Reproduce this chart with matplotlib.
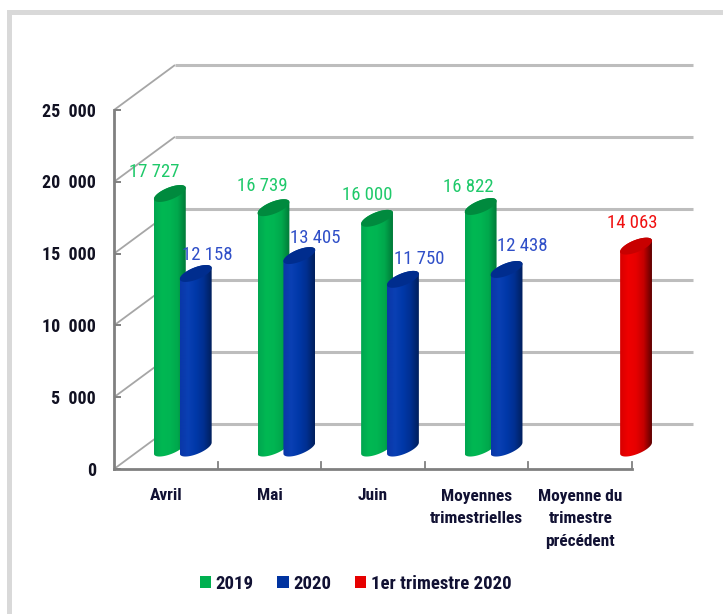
import numpy as np
import matplotlib
matplotlib.use("Agg")
import matplotlib.pyplot as plt
from matplotlib.colors import LinearSegmentedColormap
from matplotlib.patches import Patch, PathPatch, Rectangle
from matplotlib.path import Path

categories = ["Avril", "Mai", "Juin", "Moyennes\ntrimestrielles", "Moyenne du\ntrimestre\nprécédent"]
series_2019 = [17727, 16739, 16000, 16822, np.nan]
series_2020 = [12158, 13405, 11750, 12438, np.nan]
series_t1 = [np.nan, np.nan, np.nan, np.nan, 14063]
y_ticks = [0, 5000, 10000, 15000, 20000, 25000]
y_labels = ["0", "5  000", "10  000", "15  000", "20  000", "25  000"]
label_2019 = ["17 727", "16 739", "16 000", "16 822", ""]
label_2020 = ["12 158", "13 405", "11 750", "12 438", ""]
label_t1 = ["", "", "", "", "14 063"]

W, H = 723, 614
PX_X0, PX_X5, PX_Y0, PX_Y25 = 114, 632, 469, 110
sx = (PX_X5 - PX_X0) / 5
sy = (PX_Y0 - PX_Y25) / 25000
DX, DY = 61 / sx, 45 / sy           # depth of the floor in data units
FONT = ["Roboto Condensed", "Liberation Sans", "DejaVu Sans"]
A, B, TH = 17.0, 6.0, np.deg2rad(22)

fig = plt.figure(figsize=(W / 100, H / 100), dpi=100, facecolor="white")
ax = fig.add_axes([0, 0, 1, 1])
ax.set_xlim(-PX_X0 / sx, (W - PX_X0) / sx)
ax.set_ylim(-(H - PX_Y0) / sy, PX_Y0 / sy)
ax.axis("off")

# picture frame
for rect in [(7, H - 15, W - 7, 5), (7, 0, 5, H - 10)]:
    fig.add_artist(Rectangle((rect[0] / W, rect[1] / H), rect[2] / W, rect[3] / H,
                             transform=fig.transFigure, fc="#d9d9d9", ec="none"))

# walls
for v, lab in zip(y_ticks, y_labels):
    ax.plot([0, DX], [v, v + DY], color="#a6a6a6", lw=1.3, zorder=1, solid_capstyle="butt")
    ax.plot([DX, 5 + DX], [v + DY, v + DY], color="#bdbdbd", lw=2.2, zorder=1, solid_capstyle="butt")
    ax.plot([0, 7 / sx], [v, v], color="#808080", lw=1.4, zorder=2, solid_capstyle="butt")
    ax.text(-18 / sx, v - 1.7 / sy, lab, ha="right", va="center",
            family=FONT, fontsize=13, fontweight="bold", color="#111122")
ax.plot([0, 0], [0, 25000], color="#808080", lw=2, zorder=3, solid_capstyle="projecting")
ax.plot([0, 5], [0, 0], color="#808080", lw=2, zorder=3, solid_capstyle="projecting")
for i in range(1, 6):
    ax.plot([i, i], [0, 7 / sy], color="#808080", lw=1.3, zorder=3)

for i, c in enumerate(categories):
    ax.text(i + 0.5, -19.5 / sy, c, ha="center", va="top", family=FONT, fontsize=12.5,
            fontweight="bold", color="#111133", linespacing=1.63)


def ellipse(cx, cy, t):
    ex = A * np.cos(t) * np.cos(TH) - B * np.sin(t) * np.sin(TH)
    ey = A * np.cos(t) * np.sin(TH) + B * np.sin(t) * np.cos(TH)
    return cx + ex / sx, cy + ey / sy


def cylinder(x, v, cols, z):
    cx, cy = x + 0.44 * DX, 0.465 * DY
    t0 = np.arctan2(-B * np.sin(TH), A * np.cos(TH))
    upper = np.linspace(t0, t0 + np.pi, 40)
    lower = np.linspace(t0 + np.pi, t0 + 2 * np.pi, 40)
    xa, ya = ellipse(cx, cy + v, upper)
    xb, yb = ellipse(cx, cy, lower)
    body = Path(np.column_stack([np.r_[xa, xb], np.r_[ya, yb]]))
    cmap = LinearSegmentedColormap.from_list("c", cols[:-1])
    x0, x1 = min(xa.min(), xb.min()), max(xa.max(), xb.max())
    im = ax.imshow(np.linspace(0, 1, 64)[None, :], cmap=cmap, aspect="auto", zorder=z,
                   extent=[x0, x1, cy - 10 / sy, cy + v + 10 / sy], interpolation="bilinear")
    im.set_clip_path(PathPatch(body, transform=ax.transData))
    t = np.linspace(0, 2 * np.pi, 80)
    xt, yt = ellipse(cx, cy + v, t)
    ax.fill(xt, yt, color=cols[-1], ec="none", zorder=z + 0.1)
    return cx, cy + v


GREEN = ["#00a650", "#00b853", "#00b552", "#00a84c", "#007a38", "#008a3e"]
BLUE = ["#0a37a8", "#0a40b4", "#0038a8", "#002f90", "#001f5c", "#002d8e"]
RED = ["#d80000", "#f00000", "#e60000", "#c40000", "#600000", "#c80000"]

offs_2019 = [(-16, 22), (-11, 22), (-10, 23), (-12, 20), (0, 0)]
offs_2020 = [(12, 18), (16, 18), (16, 20), (16, 23), (0, 0)]
offs_t1 = [(0, 0)] * 4 + [(-4, 23)]

all_series = [(series_2019, label_2019, offs_2019, GREEN, "#1fc96a", 0.28, 5),
              (series_2020, label_2020, offs_2020, BLUE, "#2f4fc8", 0.53, 6),
              (series_t1, label_t1, offs_t1, RED, "#f01010", 0.78, 5)]
for vals, labs, offs, cols, tc, shift, z in all_series:
    for i, v in enumerate(vals):
        if np.isnan(v):
            continue
        cx, top = cylinder(i + shift, v, cols, z)
        ax.annotate(labs[i], (cx, top), xytext=offs[i], textcoords="offset pixels",
                    ha="center", va="center", family=FONT, fontsize=13.5, color=tc, zorder=8)

ax.set_xlim(-PX_X0 / sx, (W - PX_X0) / sx)
ax.set_ylim(-(H - PX_Y0) / sy, PX_Y0 / sy)

handles = [Patch(fc="#00b050", label="2019"), Patch(fc="#0033a0", label="2020"),
           Patch(fc="#e60000", label="1er trimestre 2020")]
leg = ax.legend(handles=handles, ncol=3, frameon=False, loc="center", bbox_to_anchor=(355.5 / W, 1 - 584 / H),
                bbox_transform=fig.transFigure, handlelength=0.6, handleheight=0.6, handletextpad=0.25,
                columnspacing=1.25, prop={"family": FONT, "weight": "bold", "size": 13.5})
for t in leg.get_texts():
    t.set_color("#111133")

fig.savefig("out.png", dpi=100, facecolor="white")
